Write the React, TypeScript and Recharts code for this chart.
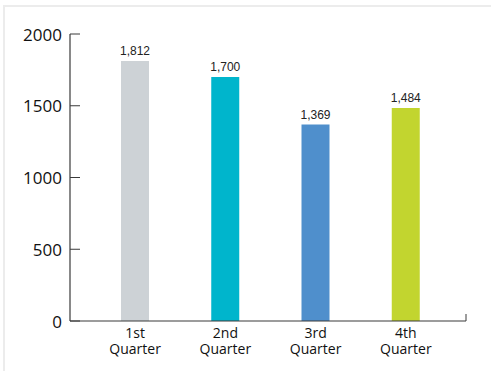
import { BarChart, Bar, XAxis, YAxis, Cell, LabelList, usePlotArea } from 'recharts'

// quarterly totals
const quarters = ['1st Quarter', '2nd Quarter', '3rd Quarter', '4th Quarter']
const totals = [1812, 1700, 1369, 1484]
const barColors = ['#cdd2d6', '#00b5cc', '#4f8fcc', '#c2d52f']
const yTicks = [0, 500, 1000, 1500, 2000]

const chartData = quarters.map((q, i) => ({ quarter: q, total: totals[i] }))

const AXIS_COLOR = '#3a3a3a'
const AXIS_FONT = '"Open Sans", sans-serif'

// y ticks sit inside the plot, label to the left of the axis
function YTick({ x, y, payload }: any) {
  return (
    <g>
      <line x1={x + 8} x2={x + 18} y1={y} y2={y} stroke={AXIS_COLOR} strokeWidth={1} />
      <text
        x={x}
        y={y}
        textAnchor="end"
        dominantBaseline="central"
        fontFamily={AXIS_FONT}
        fontSize={17}
        fill="#111"
      >
        {payload.value}
      </text>
    </g>
  )
}

// "1st Quarter" -> two lines
function XTick({ x, y, payload }: any) {
  const [first, second] = String(payload.value).split(' ')
  return (
    <g>
      <text x={x} y={y + 17} textAnchor="middle" fontFamily={AXIS_FONT} fontSize={14} fill="#111">
        {first}
      </text>
      <text x={x} y={y + 33} textAnchor="middle" fontFamily={AXIS_FONT} fontSize={14} fill="#111">
        {second}
      </text>
    </g>
  )
}

// small upward tick closing the x axis on the right
function EndTick() {
  const area = usePlotArea()
  if (!area) return null
  const right = area.x + area.width
  const bottom = area.y + area.height
  return <line x1={right} x2={right} y1={bottom - 7} y2={bottom} stroke={AXIS_COLOR} strokeWidth={1} />
}

export default function App() {
  return (
    <div style={{ position: 'absolute', left: 0, top: 0, width: 491, height: 371, overflow: 'hidden', background: '#fff' }}>
      <div
        style={{
          position: 'absolute',
          left: 3,
          top: 5,
          width: 600,
          height: 500,
          border: '2px solid #ececec',
        }}
      />
      <BarChart
        width={491}
        height={371}
        data={chartData}
        margin={{ top: 34, right: 25, bottom: 0, left: 0 }}
        style={{ position: 'absolute', left: 0, top: 0 }}
      >
        <XAxis
          dataKey="quarter"
          interval={0}
          padding={{ left: 20, right: 15 }}
          axisLine={{ stroke: AXIS_COLOR, strokeWidth: 1.2 }}
          tickLine={false}
          tickSize={0}
          tickMargin={0}
          height={50}
          tick={<XTick />}
        />
        <YAxis
          width={70}
          domain={[0, 2000]}
          ticks={yTicks}
          interval={0}
          axisLine={{ stroke: AXIS_COLOR, strokeWidth: 1.2 }}
          tickLine={false}
          tickSize={0}
          tickMargin={8}
          tick={<YTick />}
        />
        <Bar dataKey="total" barSize={28} isAnimationActive={false}>
          {chartData.map((d, i) => (
            <Cell key={d.quarter} fill={barColors[i]} />
          ))}
          <LabelList
            dataKey="total"
            position="top"
            offset={6}
            formatter={(v: any) => Number(v).toLocaleString('en-US')}
            style={{ fontFamily: '"Liberation Sans", Arial, sans-serif', fontSize: 12, fill: '#222' }}
          />
        </Bar>
        <EndTick />
      </BarChart>
    </div>
  )
}
